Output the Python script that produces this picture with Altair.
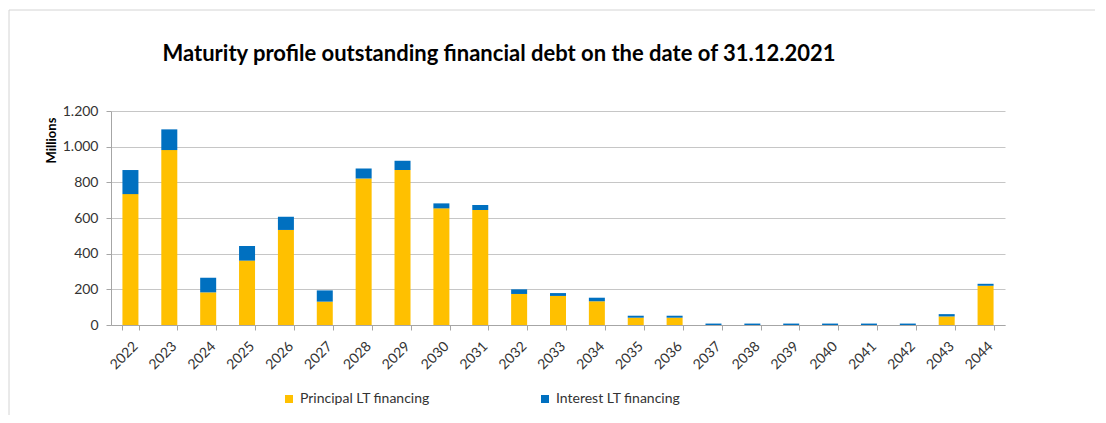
import altair as alt
import pandas as pd

years = [str(y) for y in range(2022, 2045)]
principal = [734, 981, 183, 361, 533, 131, 822, 869, 654, 645, 174, 163, 133,
             41, 41, 0, 0, 0, 0, 0, 0, 48, 220]
interest = [135, 116, 82, 82, 74, 63, 55, 52, 28, 28, 26, 16, 20,
            11, 11, 8, 8, 8, 8, 8, 8, 13, 11]
series = ["Principal LT financing", "Interest LT financing"]
colors = ["#FFC000", "#0070C0"]

rows = []
for y, p, i in zip(years, principal, interest):
    rows.append({"year": y, "series": series[0], "value": p, "ord": 0})
    rows.append({"year": y, "series": series[1], "value": i, "ord": 1})
df = pd.DataFrame(rows)

FONT = "Lato"

bars = alt.Chart(df).mark_bar(size=16).encode(
    x=alt.X("year:N", sort=years, title=None,
            scale=alt.Scale(paddingInner=0.58, paddingOuter=0.29),
            axis=alt.Axis(labelAngle=-45, labelFontSize=14, labelFont=FONT,
                          labelColor="#333333", tickBand="extent", tickSize=5,
                          tickColor="#a6a6a6", domainColor="#a6a6a6",
                          labelPadding=9, grid=False)),
    y=alt.Y("value:Q", stack="zero", title="Millions",
            scale=alt.Scale(domain=[0, 1200], nice=False),
            axis=alt.Axis(values=[0, 200, 400, 600, 800, 1000, 1200],
                          labelExpr="replace(format(datum.value, ','), ',', '.')",
                          labelFontSize=14, labelFont=FONT, labelColor="#333333",
                          tickSize=5, tickColor="#a6a6a6", domainColor="#a6a6a6",
                          gridColor="#c6c6c6", labelPadding=8,
                          titleFont=FONT, titleFontSize=13, titleFontWeight="bold",
                          titleColor="black", titleAngle=-90, titleX=-60, titleY=29,
                          titleAlign="center", titleBaseline="middle")),
    color=alt.Color("series:N", sort=series,
                    scale=alt.Scale(domain=series, range=colors),
                    legend=alt.Legend(title=None, orient="none", legendX=171, legendY=281,
                                      direction="horizontal", symbolType="square",
                                      symbolSize=64, symbolStrokeWidth=0,
                                      labelFont=FONT, labelFontSize=14,
                                      labelColor="#333333", columnPadding=108,
                                      labelOffset=4)),
    order=alt.Order("ord:Q"),
)

frame = alt.Chart(alt.Data(values=[{"a": 1}])).mark_rect(
    fill=None, stroke="#d4d4d4", strokeWidth=1
).encode(x=alt.value(-102), x2=alt.value(1200), y=alt.value(-101), y2=alt.value(500))

chart = alt.layer(frame, bars).properties(
    width=894, height=214,
    title=alt.TitleParams("Maturity profile outstanding financial debt on the date of 31.12.2021",
                          font=FONT, fontSize=22, fontWeight="bold", color="black",
                          anchor="middle", frame="group", dx=-59, offset=-56),
    autosize=alt.AutoSizeParams(type="none"),
    padding={"left": 103, "top": 103, "right": 90, "bottom": 90},
).configure_view(stroke=None)

chart.save("out.html", embed_options={"renderer": "svg", "actions": False})
